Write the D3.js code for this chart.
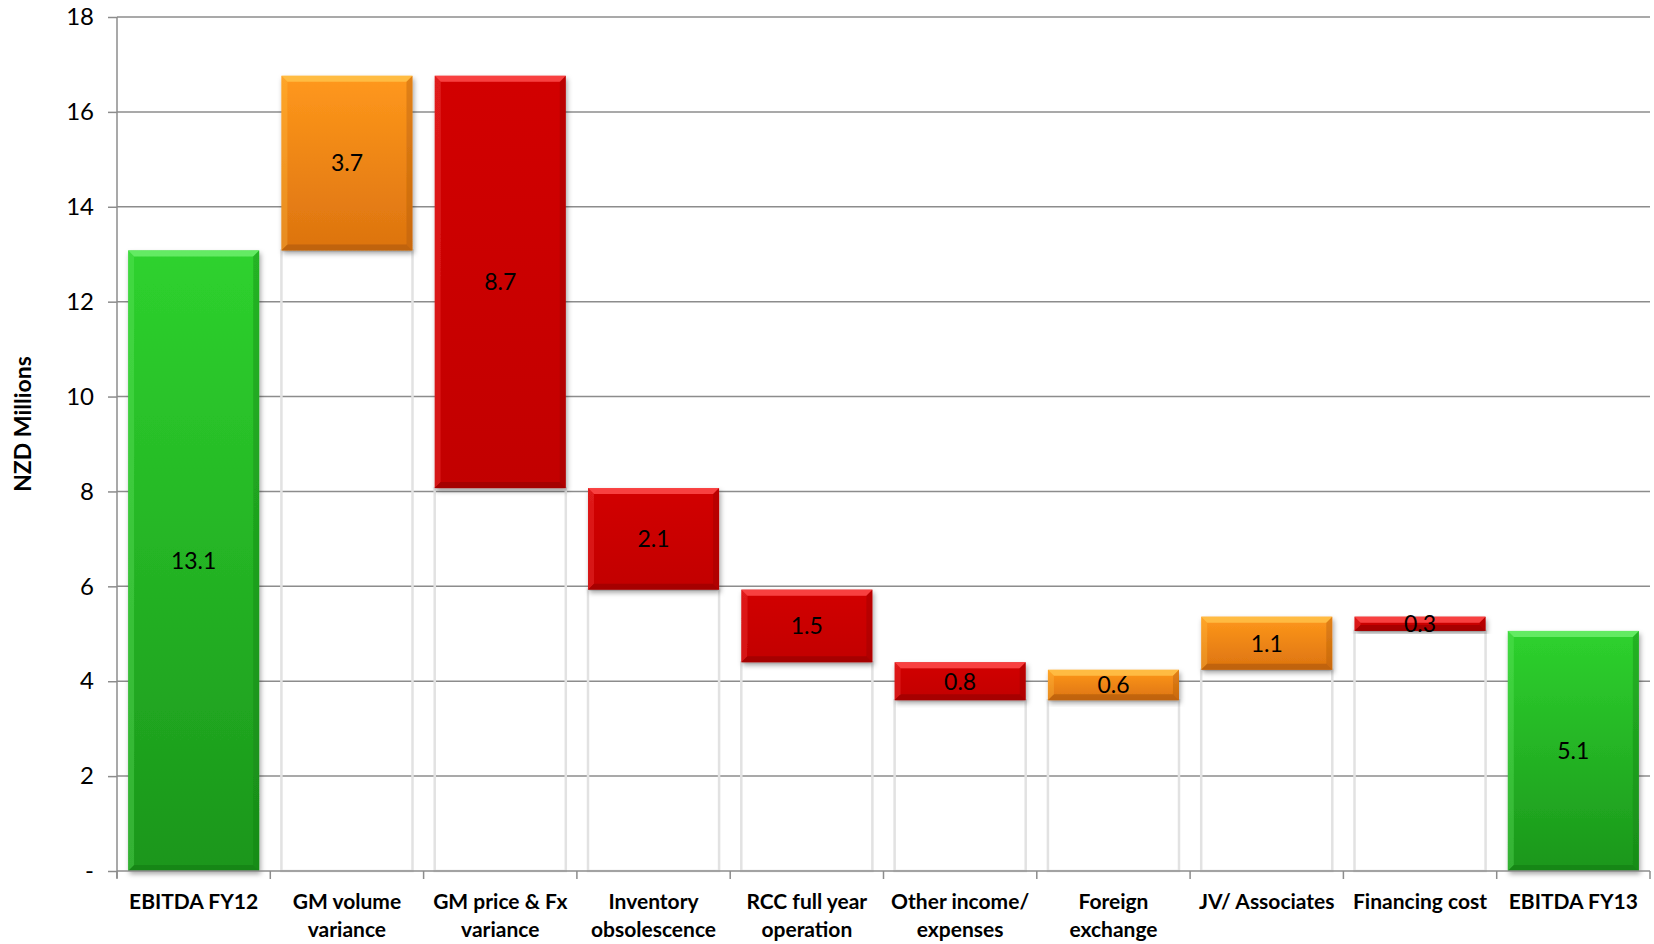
<!DOCTYPE html>
<html>
<head>
<meta charset="utf-8">
<script src="https://cdn.jsdelivr.net/npm/d3@7"></script>
<style>
  body { margin: 0; background: #fff; }
  text { font-family: Lato, "Open Sans", sans-serif; }
</style>
</head>
<body>
<svg id="chart"></svg>
<script>
// data
const categories = ["EBITDA FY12", "GM volume variance", "GM price & Fx variance", "Inventory obsolescence",
    "RCC full year operation", "Other income/ expenses", "Foreign exchange", "JV/ Associates", "Financing cost", "EBITDA FY13"];
const labelLines = [["EBITDA FY12"], ["GM volume", "variance"], ["GM price & Fx", "variance"], ["Inventory", "obsolescence"],
    ["RCC full year", "operation"], ["Other income/", "expenses"], ["Foreign", "exchange"], ["JV/ Associates"], ["Financing cost"], ["EBITDA FY13"]];
const startValue = 13.08;
const changes = [3.68, -8.69, -2.14, -1.53, -0.80, 0.64, 1.12, -0.30];
const yTicks = [0, 2, 4, 6, 8, 10, 12, 14, 16, 18];
const yTickLabels = ["-", "2", "4", "6", "8", "10", "12", "14", "16", "18"];

const width = 1654, height = 944;
const margin = {top: 17, right: 4, bottom: 73, left: 117};
const innerW = width - margin.left - margin.right;
const innerH = height - margin.top - margin.bottom;

const colors = {
    total: {top: "#2ed22e", bottom: "#1b961b", light: "#6cf06c", dark: "#147a14"},
    up:    {top: "#ff981c", bottom: "#dc730f", light: "#ffc24a", dark: "#a8560a"},
    down:  {top: "#d20606", bottom: "#c20000", light: "#ff4a4a", dark: "#8e0000"}
};

// build waterfall segments
let bars = [];
let running = startValue;
bars.push({name: categories[0], kind: "total", lo: 0, hi: startValue, value: startValue});
changes.forEach((c, i) => {
    let next = running + c;
    bars.push({name: categories[i + 1], kind: c >= 0 ? "up" : "down", lo: Math.min(running, next), hi: Math.max(running, next), value: c});
    running = next;
});
bars.push({name: categories[categories.length - 1], kind: "total", lo: 0, hi: running, value: running});

const svgEl = d3.select("#chart").attr("width", width).attr("height", height);
const defs = svgEl.append("defs");

Object.entries(colors).forEach(([k, c]) => {
    let g = defs.append("linearGradient").attr("id", "grad-" + k).attr("x1", 0).attr("y1", 0).attr("x2", 0).attr("y2", 1);
    g.append("stop").attr("offset", "0%").attr("stop-color", c.top);
    g.append("stop").attr("offset", "100%").attr("stop-color", c.bottom);
});

let shadow = defs.append("filter").attr("id", "shadow").attr("x", "-10%").attr("y", "-10%").attr("width", "130%").attr("height", "130%");
shadow.append("feDropShadow").attr("dx", 1.5).attr("dy", 3).attr("stdDeviation", 2.5)
    .attr("flood-color", "#000").attr("flood-opacity", 0.35);

const svg = svgEl.append("g").attr("transform", "translate(" + margin.left + "," + margin.top + ")");

const xScale = d3.scaleBand().domain(categories).range([0, innerW]).paddingInner(0.145).paddingOuter(0.0725);
const yScale = d3.scaleLinear().domain([0, 18]).range([innerH, 0]);

// gridlines
svg.append("g")
    .selectAll("line")
    .data(yTicks.filter(t => t > 0))
    .join("line")
    .attr("x1", 0).attr("x2", innerW)
    .attr("y1", d => yScale(d)).attr("y2", d => yScale(d))
    .attr("stroke", "#8c8c8c").attr("stroke-width", 1.5);

// invisible base segments, only their faint edges show
svg.append("g")
    .selectAll("rect")
    .data(bars.filter(b => b.kind !== "total"))
    .join("rect")
    .attr("x", d => xScale(d.name))
    .attr("width", xScale.bandwidth())
    .attr("y", d => yScale(d.lo))
    .attr("height", d => yScale(0) - yScale(d.lo))
    .attr("fill", "none")
    .attr("stroke", "#e2e2e2")
    .attr("stroke-width", 2.5);

// bars
const bev = 6;
const barG = svg.append("g").selectAll("g").data(bars).join("g").attr("filter", "url(#shadow)");
barG.append("rect")
    .attr("x", d => xScale(d.name))
    .attr("width", xScale.bandwidth())
    .attr("y", d => yScale(d.hi))
    .attr("height", d => yScale(d.lo) - yScale(d.hi))
    .attr("fill", d => "url(#grad-" + d.kind + ")");

function bevelPts(d, side) {
    let x0 = xScale(d.name), x1 = x0 + xScale.bandwidth();
    let y0 = yScale(d.hi), y1 = yScale(d.lo);
    let b = Math.min(bev, (y1 - y0) / 2);
    if (side === "top") return [[x0, y0], [x1, y0], [x1 - b, y0 + b], [x0 + b, y0 + b]];
    if (side === "bottom") return [[x0, y1], [x1, y1], [x1 - b, y1 - b], [x0 + b, y1 - b]];
    if (side === "left") return [[x0, y0], [x0 + b, y0 + b], [x0 + b, y1 - b], [x0, y1]];
    return [[x1, y0], [x1 - b, y0 + b], [x1 - b, y1 - b], [x1, y1]];
}
barG.append("polygon").attr("points", d => bevelPts(d, "top").join(" "))
    .attr("fill", d => colors[d.kind].light).attr("opacity", 0.85);
barG.append("polygon").attr("points", d => bevelPts(d, "left").join(" "))
    .attr("fill", d => colors[d.kind].light).attr("opacity", 0.3);
barG.append("polygon").attr("points", d => bevelPts(d, "right").join(" "))
    .attr("fill", d => colors[d.kind].dark).attr("opacity", 0.35);
barG.append("polygon").attr("points", d => bevelPts(d, "bottom").join(" "))
    .attr("fill", d => colors[d.kind].dark).attr("opacity", 0.55);

// value labels
svg.append("g")
    .selectAll("text")
    .data(bars)
    .join("text")
    .attr("x", d => xScale(d.name) + xScale.bandwidth() / 2)
    .attr("y", d => (yScale(d.hi) + yScale(d.lo)) / 2)
    .attr("dy", "0.36em")
    .attr("text-anchor", "middle")
    .attr("font-size", 23)
    .attr("fill", "#000")
    .text(d => d3.format(".1f")(Math.abs(d.value)));

// y axis
const yAxis = d3.axisLeft(yScale).tickValues(yTicks).tickFormat((d, i) => yTickLabels[i]).tickSize(9).tickPadding(14);
const yAxisG = svg.append("g").call(yAxis);
yAxisG.select(".domain").attr("stroke", "#8c8c8c").attr("stroke-width", 1.5).attr("d", "M0," + (innerH + 7) + "V0");
yAxisG.selectAll(".tick line").attr("stroke", "#8c8c8c").attr("stroke-width", 1.5);
yAxisG.selectAll(".tick text").attr("font-size", 24).attr("fill", "#000").style("font-family", "Lato, sans-serif");

// x axis
const xAxisG = svg.append("g").attr("transform", "translate(0," + innerH + ")");
xAxisG.append("line").attr("x1", 0).attr("x2", innerW).attr("stroke", "#8c8c8c").attr("stroke-width", 1.5);
const step = xScale.step();
xAxisG.selectAll(".xtick")
    .data(d3.range(categories.length + 1))
    .join("line")
    .attr("x1", i => xScale(categories[0]) - step * xScale.paddingOuter() + i * step)
    .attr("x2", i => xScale(categories[0]) - step * xScale.paddingOuter() + i * step)
    .attr("y1", 0).attr("y2", 8)
    .attr("stroke", "#8c8c8c").attr("stroke-width", 1.5);

const xLabels = xAxisG.selectAll(".xlabel")
    .data(categories)
    .join("text")
    .attr("x", d => xScale(d) + xScale.bandwidth() / 2)
    .attr("y", 38)
    .attr("text-anchor", "middle")
    .attr("font-size", 21)
    .attr("font-weight", "bold")
    .attr("fill", "#000");
xLabels.selectAll("tspan")
    .data((d, i) => labelLines[i])
    .join("tspan")
    .attr("x", function() { return this.parentNode.getAttribute("x"); })
    .attr("dy", (d, i) => i === 0 ? 0 : 28)
    .text(d => d);

// y title
svgEl.append("text")
    .attr("transform", "translate(31," + (margin.top + innerH / 2 - 20) + ") rotate(-90)")
    .attr("text-anchor", "middle")
    .attr("font-size", 23)
    .attr("font-weight", "bold")
    .text("NZD Millions");
</script>
</body>
</html>
